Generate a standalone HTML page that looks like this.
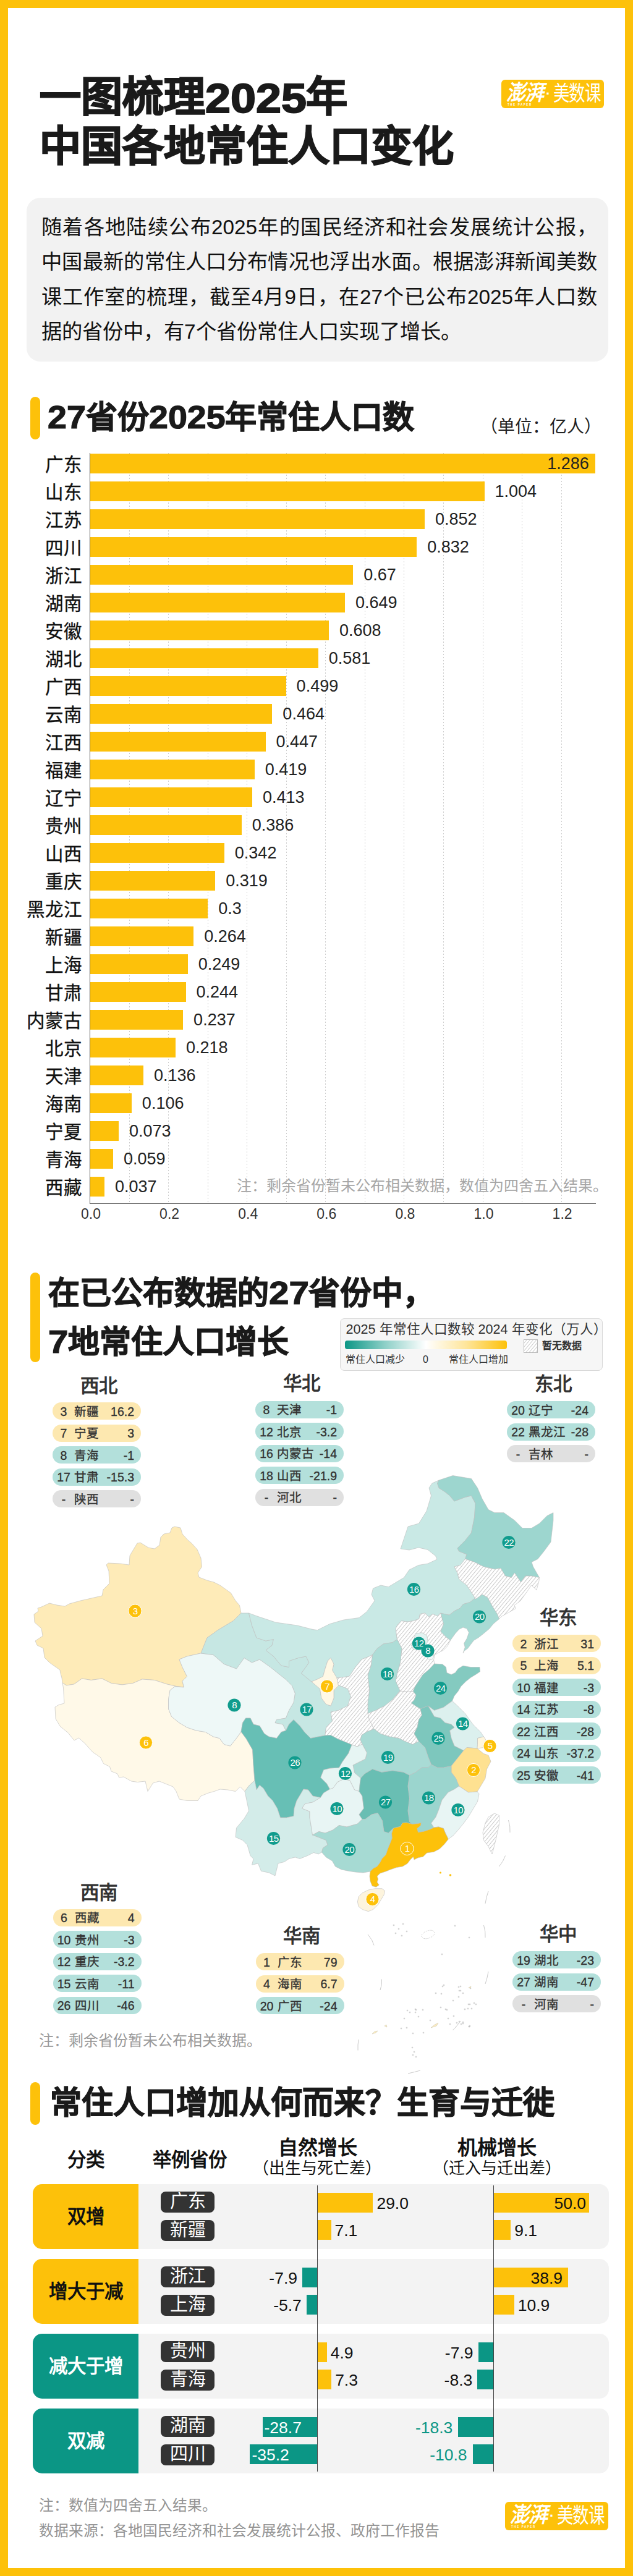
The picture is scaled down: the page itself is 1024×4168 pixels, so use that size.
<!DOCTYPE html>
<html lang="zh-CN"><head><meta charset="utf-8"><title>2025</title>
<style>
html,body{margin:0;padding:0;}
body{width:1024px;height:4168px;position:relative;overflow:hidden;background:#FDC10A;font-family:"Liberation Sans",sans-serif;}
#pg{position:absolute;left:13px;top:13px;width:998px;height:4142px;background:#fff;}
.t{position:absolute;white-space:nowrap;margin:0;padding:0;}
.r{position:absolute;margin:0;padding:0;}
</style></head><body><div id="pg"></div>
<div class="t" style="left:63.5px;top:112.95px;font-size:67px;line-height:87.1px;font-weight:900;color:#1a1a1a;-webkit-text-stroke:2.0px #1a1a1a;">一图梳理<span style="display:inline-block;position:relative;top:2px;transform:scaleX(1.1);transform-origin:0 50%;margin-right:14.9px;">2025</span>年</div>
<div class="t" style="left:63.5px;top:192.95px;font-size:67px;line-height:87.1px;font-weight:900;color:#1a1a1a;-webkit-text-stroke:2.0px #1a1a1a;">中国各地常住人口变化</div>
<div class="r" style="left:811px;top:129px;width:166px;height:46px;background:#FDC10A;border-radius:6px;"></div>
<div class="t" style="left:819px;top:133px;font-size:31px;line-height:36px;font-weight:700;color:#fff;font-family:'Liberation Serif',serif;font-style:italic;letter-spacing:-1px;transform:scaleY(1.12);transform-origin:0 50%;">澎湃</div>
<div class="t" style="left:883px;top:137px;font-size:22px;line-height:30px;font-weight:700;color:#fff;">·</div>
<div class="t" style="left:895px;top:134px;font-size:26.5px;line-height:34px;font-weight:400;color:#fff;letter-spacing:-0.6px;transform:scaleY(1.3);transform-origin:0 50%;">美数课</div>
<div class="t" style="left:821px;top:167px;font-size:4.5px;line-height:6px;font-weight:700;color:#fff;letter-spacing:1.6px;">THE PAPER</div>
<div class="r" style="left:43px;top:320px;width:941px;height:265px;background:#f2f2f2;border-radius:22px;"></div>
<div class="t" style="left:67px;top:340px;width:899px;font-size:33.3px;line-height:56.3px;color:#111;white-space:normal;text-align:justify;word-break:break-all;">随着各地陆续公布2025年的国民经济和社会发展统计公报，中国最新的常住人口分布情况也浮出水面。根据澎湃新闻美数课工作室的梳理，截至4月9日，在27个已公布2025年人口数据的省份中，有7个省份常住人口实现了增长。</div>
<div class="r" style="left:49px;top:642px;width:16px;height:69px;background:#FDC10A;border-radius:8px;"></div>
<div class="t" style="left:77px;top:642.85px;font-size:51px;line-height:66.3px;font-weight:900;color:#1a1a1a;-webkit-text-stroke:1.2px #1a1a1a;"><span style="display:inline-block;position:relative;top:0px;transform:scaleX(1.09);transform-origin:0 50%;margin-right:5.1px;">27</span>省份<span style="display:inline-block;position:relative;top:0px;transform:scaleX(1.09);transform-origin:0 50%;margin-right:10.2px;">2025</span>年常住人口数</div>
<div class="t" style="left:777px;top:673.40px;font-size:28px;line-height:36.4px;font-weight:400;color:#222;">（单位：亿人）</div>
<div class="r" style="left:208.6px;top:733px;height:1214px;background:repeating-linear-gradient(180deg,#cdcdcd 0,#cdcdcd 2px,transparent 2px,transparent 5px);width:1px;"></div>
<div class="r" style="left:272.1px;top:733px;height:1214px;background:repeating-linear-gradient(180deg,#cdcdcd 0,#cdcdcd 2px,transparent 2px,transparent 5px);width:1px;"></div>
<div class="r" style="left:335.6px;top:733px;height:1214px;background:repeating-linear-gradient(180deg,#cdcdcd 0,#cdcdcd 2px,transparent 2px,transparent 5px);width:1px;"></div>
<div class="r" style="left:399.2px;top:733px;height:1214px;background:repeating-linear-gradient(180deg,#cdcdcd 0,#cdcdcd 2px,transparent 2px,transparent 5px);width:1px;"></div>
<div class="r" style="left:462.8px;top:733px;height:1214px;background:repeating-linear-gradient(180deg,#cdcdcd 0,#cdcdcd 2px,transparent 2px,transparent 5px);width:1px;"></div>
<div class="r" style="left:526.3px;top:733px;height:1214px;background:repeating-linear-gradient(180deg,#cdcdcd 0,#cdcdcd 2px,transparent 2px,transparent 5px);width:1px;"></div>
<div class="r" style="left:589.9px;top:733px;height:1214px;background:repeating-linear-gradient(180deg,#cdcdcd 0,#cdcdcd 2px,transparent 2px,transparent 5px);width:1px;"></div>
<div class="r" style="left:653.4px;top:733px;height:1214px;background:repeating-linear-gradient(180deg,#cdcdcd 0,#cdcdcd 2px,transparent 2px,transparent 5px);width:1px;"></div>
<div class="r" style="left:717.0px;top:733px;height:1214px;background:repeating-linear-gradient(180deg,#cdcdcd 0,#cdcdcd 2px,transparent 2px,transparent 5px);width:1px;"></div>
<div class="r" style="left:780.5px;top:733px;height:1214px;background:repeating-linear-gradient(180deg,#cdcdcd 0,#cdcdcd 2px,transparent 2px,transparent 5px);width:1px;"></div>
<div class="r" style="left:844.0px;top:733px;height:1214px;background:repeating-linear-gradient(180deg,#cdcdcd 0,#cdcdcd 2px,transparent 2px,transparent 5px);width:1px;"></div>
<div class="r" style="left:907.6px;top:733px;height:1214px;background:repeating-linear-gradient(180deg,#cdcdcd 0,#cdcdcd 2px,transparent 2px,transparent 5px);width:1px;"></div>
<div class="r" style="left:145.5px;top:733.7px;width:817.3px;height:32px;background:#FDC10A;"></div>
<div class="t" style="right:891.5px;top:733.03px;font-size:29.5px;line-height:38.35px;font-weight:400;color:#111;-webkit-text-stroke:0.35px #111;">广东</div>
<div class="t" style="right:71.24699999999996px;top:733.15px;font-size:27px;line-height:35.1px;font-weight:400;color:#222;">1.286</div>
<div class="r" style="left:145.5px;top:778.7px;width:638.0px;height:32px;background:#FDC10A;"></div>
<div class="t" style="right:891.5px;top:778.03px;font-size:29.5px;line-height:38.35px;font-weight:400;color:#111;-webkit-text-stroke:0.35px #111;">山东</div>
<div class="t" style="left:800.542px;top:778.15px;font-size:27px;line-height:35.1px;font-weight:400;color:#222;">1.004</div>
<div class="r" style="left:145.5px;top:823.7px;width:541.4px;height:32px;background:#FDC10A;"></div>
<div class="t" style="right:891.5px;top:823.03px;font-size:29.5px;line-height:38.35px;font-weight:400;color:#111;-webkit-text-stroke:0.35px #111;">江苏</div>
<div class="t" style="left:703.946px;top:823.15px;font-size:27px;line-height:35.1px;font-weight:400;color:#222;">0.852</div>
<div class="r" style="left:145.5px;top:868.7px;width:528.7px;height:32px;background:#FDC10A;"></div>
<div class="t" style="right:891.5px;top:868.03px;font-size:29.5px;line-height:38.35px;font-weight:400;color:#111;-webkit-text-stroke:0.35px #111;">四川</div>
<div class="t" style="left:691.236px;top:868.15px;font-size:27px;line-height:35.1px;font-weight:400;color:#222;">0.832</div>
<div class="r" style="left:145.5px;top:913.7px;width:425.8px;height:32px;background:#FDC10A;"></div>
<div class="t" style="right:891.5px;top:913.03px;font-size:29.5px;line-height:38.35px;font-weight:400;color:#111;-webkit-text-stroke:0.35px #111;">浙江</div>
<div class="t" style="left:588.2850000000001px;top:913.15px;font-size:27px;line-height:35.1px;font-weight:400;color:#222;">0.67</div>
<div class="r" style="left:145.5px;top:958.7px;width:412.4px;height:32px;background:#FDC10A;"></div>
<div class="t" style="right:891.5px;top:958.03px;font-size:29.5px;line-height:38.35px;font-weight:400;color:#111;-webkit-text-stroke:0.35px #111;">湖南</div>
<div class="t" style="left:574.9395px;top:958.15px;font-size:27px;line-height:35.1px;font-weight:400;color:#222;">0.649</div>
<div class="r" style="left:145.5px;top:1003.7px;width:386.4px;height:32px;background:#FDC10A;"></div>
<div class="t" style="right:891.5px;top:1003.03px;font-size:29.5px;line-height:38.35px;font-weight:400;color:#111;-webkit-text-stroke:0.35px #111;">安徽</div>
<div class="t" style="left:548.884px;top:1003.15px;font-size:27px;line-height:35.1px;font-weight:400;color:#222;">0.608</div>
<div class="r" style="left:145.5px;top:1048.7px;width:369.2px;height:32px;background:#FDC10A;"></div>
<div class="t" style="right:891.5px;top:1048.03px;font-size:29.5px;line-height:38.35px;font-weight:400;color:#111;-webkit-text-stroke:0.35px #111;">湖北</div>
<div class="t" style="left:531.7255px;top:1048.15px;font-size:27px;line-height:35.1px;font-weight:400;color:#222;">0.581</div>
<div class="r" style="left:145.5px;top:1093.7px;width:317.1px;height:32px;background:#FDC10A;"></div>
<div class="t" style="right:891.5px;top:1093.03px;font-size:29.5px;line-height:38.35px;font-weight:400;color:#111;-webkit-text-stroke:0.35px #111;">广西</div>
<div class="t" style="left:479.6145px;top:1093.15px;font-size:27px;line-height:35.1px;font-weight:400;color:#222;">0.499</div>
<div class="r" style="left:145.5px;top:1138.7px;width:294.9px;height:32px;background:#FDC10A;"></div>
<div class="t" style="right:891.5px;top:1138.03px;font-size:29.5px;line-height:38.35px;font-weight:400;color:#111;-webkit-text-stroke:0.35px #111;">云南</div>
<div class="t" style="left:457.372px;top:1138.15px;font-size:27px;line-height:35.1px;font-weight:400;color:#222;">0.464</div>
<div class="r" style="left:145.5px;top:1183.7px;width:284.1px;height:32px;background:#FDC10A;"></div>
<div class="t" style="right:891.5px;top:1183.03px;font-size:29.5px;line-height:38.35px;font-weight:400;color:#111;-webkit-text-stroke:0.35px #111;">江西</div>
<div class="t" style="left:446.56850000000003px;top:1183.15px;font-size:27px;line-height:35.1px;font-weight:400;color:#222;">0.447</div>
<div class="r" style="left:145.5px;top:1228.7px;width:266.3px;height:32px;background:#FDC10A;"></div>
<div class="t" style="right:891.5px;top:1228.03px;font-size:29.5px;line-height:38.35px;font-weight:400;color:#111;-webkit-text-stroke:0.35px #111;">福建</div>
<div class="t" style="left:428.7745px;top:1228.15px;font-size:27px;line-height:35.1px;font-weight:400;color:#222;">0.419</div>
<div class="r" style="left:145.5px;top:1273.7px;width:262.5px;height:32px;background:#FDC10A;"></div>
<div class="t" style="right:891.5px;top:1273.03px;font-size:29.5px;line-height:38.35px;font-weight:400;color:#111;-webkit-text-stroke:0.35px #111;">辽宁</div>
<div class="t" style="left:424.9615px;top:1273.15px;font-size:27px;line-height:35.1px;font-weight:400;color:#222;">0.413</div>
<div class="r" style="left:145.5px;top:1318.7px;width:245.3px;height:32px;background:#FDC10A;"></div>
<div class="t" style="right:891.5px;top:1318.03px;font-size:29.5px;line-height:38.35px;font-weight:400;color:#111;-webkit-text-stroke:0.35px #111;">贵州</div>
<div class="t" style="left:407.803px;top:1318.15px;font-size:27px;line-height:35.1px;font-weight:400;color:#222;">0.386</div>
<div class="r" style="left:145.5px;top:1363.7px;width:217.3px;height:32px;background:#FDC10A;"></div>
<div class="t" style="right:891.5px;top:1363.03px;font-size:29.5px;line-height:38.35px;font-weight:400;color:#111;-webkit-text-stroke:0.35px #111;">山西</div>
<div class="t" style="left:379.841px;top:1363.15px;font-size:27px;line-height:35.1px;font-weight:400;color:#222;">0.342</div>
<div class="r" style="left:145.5px;top:1408.7px;width:202.7px;height:32px;background:#FDC10A;"></div>
<div class="t" style="right:891.5px;top:1408.03px;font-size:29.5px;line-height:38.35px;font-weight:400;color:#111;-webkit-text-stroke:0.35px #111;">重庆</div>
<div class="t" style="left:365.22450000000003px;top:1408.15px;font-size:27px;line-height:35.1px;font-weight:400;color:#222;">0.319</div>
<div class="r" style="left:145.5px;top:1453.7px;width:190.7px;height:32px;background:#FDC10A;"></div>
<div class="t" style="right:891.5px;top:1453.03px;font-size:29.5px;line-height:38.35px;font-weight:400;color:#111;-webkit-text-stroke:0.35px #111;">黑龙江</div>
<div class="t" style="left:353.15px;top:1453.15px;font-size:27px;line-height:35.1px;font-weight:400;color:#222;">0.3</div>
<div class="r" style="left:145.5px;top:1498.7px;width:167.8px;height:32px;background:#FDC10A;"></div>
<div class="t" style="right:891.5px;top:1498.03px;font-size:29.5px;line-height:38.35px;font-weight:400;color:#111;-webkit-text-stroke:0.35px #111;">新疆</div>
<div class="t" style="left:330.27200000000005px;top:1498.15px;font-size:27px;line-height:35.1px;font-weight:400;color:#222;">0.264</div>
<div class="r" style="left:145.5px;top:1543.7px;width:158.2px;height:32px;background:#FDC10A;"></div>
<div class="t" style="right:891.5px;top:1543.03px;font-size:29.5px;line-height:38.35px;font-weight:400;color:#111;-webkit-text-stroke:0.35px #111;">上海</div>
<div class="t" style="left:320.7395px;top:1543.15px;font-size:27px;line-height:35.1px;font-weight:400;color:#222;">0.249</div>
<div class="r" style="left:145.5px;top:1588.7px;width:155.1px;height:32px;background:#FDC10A;"></div>
<div class="t" style="right:891.5px;top:1588.03px;font-size:29.5px;line-height:38.35px;font-weight:400;color:#111;-webkit-text-stroke:0.35px #111;">甘肃</div>
<div class="t" style="left:317.562px;top:1588.15px;font-size:27px;line-height:35.1px;font-weight:400;color:#222;">0.244</div>
<div class="r" style="left:145.5px;top:1633.7px;width:150.6px;height:32px;background:#FDC10A;"></div>
<div class="t" style="right:891.5px;top:1633.03px;font-size:29.5px;line-height:38.35px;font-weight:400;color:#111;-webkit-text-stroke:0.35px #111;">内蒙古</div>
<div class="t" style="left:313.1135px;top:1633.15px;font-size:27px;line-height:35.1px;font-weight:400;color:#222;">0.237</div>
<div class="r" style="left:145.5px;top:1678.7px;width:138.5px;height:32px;background:#FDC10A;"></div>
<div class="t" style="right:891.5px;top:1678.03px;font-size:29.5px;line-height:38.35px;font-weight:400;color:#111;-webkit-text-stroke:0.35px #111;">北京</div>
<div class="t" style="left:301.039px;top:1678.15px;font-size:27px;line-height:35.1px;font-weight:400;color:#222;">0.218</div>
<div class="r" style="left:145.5px;top:1723.7px;width:86.4px;height:32px;background:#FDC10A;"></div>
<div class="t" style="right:891.5px;top:1723.03px;font-size:29.5px;line-height:38.35px;font-weight:400;color:#111;-webkit-text-stroke:0.35px #111;">天津</div>
<div class="t" style="left:248.928px;top:1723.15px;font-size:27px;line-height:35.1px;font-weight:400;color:#222;">0.136</div>
<div class="r" style="left:145.5px;top:1768.7px;width:67.4px;height:32px;background:#FDC10A;"></div>
<div class="t" style="right:891.5px;top:1768.03px;font-size:29.5px;line-height:38.35px;font-weight:400;color:#111;-webkit-text-stroke:0.35px #111;">海南</div>
<div class="t" style="left:229.863px;top:1768.15px;font-size:27px;line-height:35.1px;font-weight:400;color:#222;">0.106</div>
<div class="r" style="left:145.5px;top:1813.7px;width:46.4px;height:32px;background:#FDC10A;"></div>
<div class="t" style="right:891.5px;top:1813.03px;font-size:29.5px;line-height:38.35px;font-weight:400;color:#111;-webkit-text-stroke:0.35px #111;">宁夏</div>
<div class="t" style="left:208.8915px;top:1813.15px;font-size:27px;line-height:35.1px;font-weight:400;color:#222;">0.073</div>
<div class="r" style="left:145.5px;top:1858.7px;width:37.5px;height:32px;background:#FDC10A;"></div>
<div class="t" style="right:891.5px;top:1858.03px;font-size:29.5px;line-height:38.35px;font-weight:400;color:#111;-webkit-text-stroke:0.35px #111;">青海</div>
<div class="t" style="left:199.9945px;top:1858.15px;font-size:27px;line-height:35.1px;font-weight:400;color:#222;">0.059</div>
<div class="r" style="left:145.5px;top:1903.7px;width:23.5px;height:32px;background:#FDC10A;"></div>
<div class="t" style="right:891.5px;top:1903.03px;font-size:29.5px;line-height:38.35px;font-weight:400;color:#111;-webkit-text-stroke:0.35px #111;">西藏</div>
<div class="t" style="left:186.0135px;top:1903.15px;font-size:27px;line-height:35.1px;font-weight:400;color:#222;">0.037</div>
<div class="r" style="left:145px;top:733px;width:1px;height:1214px;background:#555;"></div>
<div class="r" style="left:145px;top:1946.5px;width:819px;height:1px;background:#555;"></div>
<div class="t" style="left:-353.0px;width:1000px;text-align:center;top:1950.05px;font-size:23px;line-height:29.9px;font-weight:400;color:#333;">0.0</div>
<div class="t" style="left:-225.89999999999998px;width:1000px;text-align:center;top:1950.05px;font-size:23px;line-height:29.9px;font-weight:400;color:#333;">0.2</div>
<div class="t" style="left:-98.79999999999995px;width:1000px;text-align:center;top:1950.05px;font-size:23px;line-height:29.9px;font-weight:400;color:#333;">0.4</div>
<div class="t" style="left:28.300000000000068px;width:1000px;text-align:center;top:1950.05px;font-size:23px;line-height:29.9px;font-weight:400;color:#333;">0.6</div>
<div class="t" style="left:155.4000000000001px;width:1000px;text-align:center;top:1950.05px;font-size:23px;line-height:29.9px;font-weight:400;color:#333;">0.8</div>
<div class="t" style="left:282.5px;width:1000px;text-align:center;top:1950.05px;font-size:23px;line-height:29.9px;font-weight:400;color:#333;">1.0</div>
<div class="t" style="left:409.60000000000014px;width:1000px;text-align:center;top:1950.05px;font-size:23px;line-height:29.9px;font-weight:400;color:#333;">1.2</div>
<div class="t" style="left:383px;top:1903.20px;font-size:24px;line-height:31.2px;font-weight:300;color:#a6a6a6;">注：剩余省份暂未公布相关数据，数值为四舍五入结果。</div>
<div class="r" style="left:49px;top:2059px;width:16px;height:145px;background:#FDC10A;border-radius:8px;"></div>
<div class="t" style="left:77.5px;top:2059.85px;font-size:51px;line-height:66.3px;font-weight:900;color:#1a1a1a;-webkit-text-stroke:1.2px #1a1a1a;">在已公布数据的<span style="display:inline-block;position:relative;top:0px;transform:scaleX(1.145);transform-origin:0 50%;margin-right:8.2px;">27</span>省份中，</div>
<div class="t" style="left:77.5px;top:2138.85px;font-size:51px;line-height:66.3px;font-weight:900;color:#1a1a1a;-webkit-text-stroke:1.2px #1a1a1a;"><span style="display:inline-block;position:relative;top:0px;transform:scaleX(1.145);transform-origin:0 50%;margin-right:4.1px;">7</span>地常住人口增长</div>
<div class="r" style="left:550px;top:2132.5px;width:425px;height:85.5px;box-sizing:border-box;background:#f6f6f6;border:1px solid #d9d9d9;border-radius:7px;"></div>
<div class="t" style="left:559.5px;top:2136.76px;font-size:21.6px;line-height:28.08px;font-weight:500;color:#333;">2025 年常住人口数较 2024 年变化（万人）</div>
<div class="r" style="left:558px;top:2169.4px;width:262px;height:14px;border-radius:4px;background:linear-gradient(90deg,#0B9685 0%,#8fd0c8 25%,#ffffff 50%,#fee59a 75%,#FDC10A 100%);"></div>
<div class="t" style="left:559px;top:2189.60px;font-size:16px;line-height:20.8px;font-weight:500;color:#333;">常住人口减少</div>
<div class="t" style="left:188.5px;width:1000px;text-align:center;top:2189.60px;font-size:16px;line-height:20.8px;font-weight:500;color:#333;">0</div>
<div class="t" style="left:725.5px;top:2189.60px;font-size:16px;line-height:20.8px;font-weight:500;color:#333;">常住人口增加</div>
<svg class="r" style="left:847px;top:2167px;" width="23" height="22" viewBox="0 0 23 22"><defs><pattern id="hl" width="4" height="4" patternUnits="userSpaceOnUse" patternTransform="rotate(-50)"><line x1="0" y1="0" x2="4" y2="0" stroke="#999" stroke-width="1"/></pattern></defs><rect x="0.5" y="0.5" width="22" height="21" fill="#fff"/><rect x="0.5" y="0.5" width="22" height="21" fill="url(#hl)" stroke="#bbb" stroke-width="1"/></svg>
<div class="t" style="left:876.5px;top:2167.60px;font-size:16px;line-height:20.8px;font-weight:600;color:#333;">暂无数据</div>
<svg class="r" style="left:0;top:2380px;" width="1024" height="1000" viewBox="0 2380 1024 1000">
<defs><pattern id="hm" width="4.5" height="4.5" patternUnits="userSpaceOnUse" patternTransform="rotate(-50)"><rect width="4.5" height="4.5" fill="#fff"/><line x1="0" y1="0.5" x2="4.5" y2="0.5" stroke="#adadad" stroke-width="0.65"/></pattern></defs>
<g stroke="#bcbcbc" stroke-width="0.6" stroke-linejoin="round">
<path d="M390 2610L387.5 2597.5L381 2590L373.5 2577.5L356 2565L346 2560L335 2557L322 2552L320 2545L326.5 2535L325 2521L319 2507L310 2497L304 2492L295 2482L292 2472L282.5 2470L278 2472L275 2480L265 2482L260 2487L258 2500L250 2506L240 2504L227 2496L222 2497L210 2517L209 2532L195 2530L175 2529L172 2532L176 2542L177 2562L167 2572L165 2582L130 2590L112 2595L105 2599L92 2597L80 2594L67 2600L61 2602L62 2607L55 2612L56 2625L67 2635L69 2647L57 2655L60 2662L70 2667L72 2682L80 2690L87 2695L97 2702L97.5 2706L100 2715L101 2723L107.5 2727L120 2725L132.5 2716L147.5 2718.5L165 2716L180 2723.5L197.5 2726L215 2723.5L230 2717L250 2718.5L270 2725L285 2728.5L297.5 2730L295 2720L302.5 2712.5L295 2697.5L290 2685L302.5 2680L325 2675L330 2662.5L335 2650L352.5 2637.5L377.5 2622.5Z" fill="#FEEBB8"/>
<path d="M101 2723L102.5 2731L104 2756L95 2758.5L89 2762L90 2781L97.5 2793.5L110 2803.5L120 2816L127.5 2812L137.5 2821L150 2835L162.5 2843.5L167.5 2853.5L177.5 2858.5L180 2866L190 2870L192.5 2876L200 2875L212.5 2882L222.5 2883.5L235 2882L239 2898.5L247.5 2885L257.5 2882L270 2887L280 2891L285 2898.5L290 2911L302.5 2913.5L320 2913.5L325 2906L337.5 2901L346.5 2898.5L356 2895L368.5 2896L381 2898.5L388.5 2891L396 2898.5L403.5 2888.5L412 2881L410 2856L408.5 2831L398.5 2813.5L390 2802L382.5 2812.5L372.5 2825L362.5 2822.5L355 2812.5L345 2810L332.5 2802.5L317.5 2800L302.5 2795L290 2787.5L277.5 2777.5L272.5 2765L272.5 2750L275 2735L282.5 2729L297.5 2730L285 2728.5L270 2725L250 2718.5L230 2717L215 2723.5L197.5 2726L180 2723.5L165 2716L147.5 2718.5L132.5 2716L120 2725L107.5 2727Z" fill="#FFF9E8"/>
<path d="M325 2675L302.5 2680L290 2685L295 2697.5L302.5 2712.5L295 2720L297.5 2730L282.5 2729L275 2735L272.5 2750L272.5 2765L277.5 2777.5L290 2787.5L302.5 2795L317.5 2800L332.5 2802.5L345 2810L355 2812.5L362.5 2822.5L372.5 2825L382.5 2812.5L390 2802L392.5 2787.5L397.5 2780L405 2780L410 2790L420 2792.5L427.5 2805L435 2810L447.5 2812.5L455 2802.5L462.5 2800L457.5 2790L445 2787.5L447.5 2782.5L462.5 2780L467.5 2767.5L475 2755L477.5 2740L472.5 2727.5L462.5 2717.5L450 2707.5L437.5 2697.5L420 2685L407.5 2690L395 2682.5L382.5 2700L362.5 2692.5L345 2677.5Z" fill="#EEF8F7"/>
<path d="M390 2610L377.5 2622.5L352.5 2637.5L335 2650L330 2662.5L325 2675L345 2677.5L362.5 2692.5L382.5 2700L395 2682.5L407.5 2690L420 2685L437.5 2697.5L450 2707.5L462.5 2717.5L472.5 2727.5L477.5 2740L475 2755L467.5 2767.5L462.5 2780L447.5 2782.5L445 2787.5L457.5 2790L462.5 2800L467.5 2790L475 2782.5L485 2792.5L492.5 2802.5L502.5 2812.5L515 2810L526 2808L527.5 2795L537.5 2785L535 2770L547.5 2767.5L562.5 2760L567.5 2745L562.5 2732.5L550 2727.5L547.5 2727.5L540 2735L540 2747.5L535 2760L527.5 2757.5L520 2747.5L517.5 2732.5L504 2721L487.5 2707.5L500 2690L495 2680L482.5 2682.5L467.5 2687.5L467.5 2697.5L455 2695L442.5 2680L430 2670L440 2662.5L442.5 2652.5L430 2655L415 2650L407.5 2630L402.5 2610Z" fill="#C6E7E3"/>
<path d="M402.5 2610L416 2615L446 2625L481 2630L506 2636.5L513.5 2637.5L533.5 2627.5L556 2621L581 2617.5L593.5 2607.5L606 2590L601 2580L603.5 2570L616 2565L628.5 2567.5L641 2560L653.5 2552.5L662 2540L677 2532.5L692 2530L707 2523L704.5 2517.5L692 2507.5L677 2504L662 2508L648 2506L655 2485L660 2470L677.5 2465L690 2445L697.5 2420L694 2407.5L699 2400L710 2395L707.5 2400L710 2407.5L720 2414L727.5 2420L735 2429L752.5 2422.5L762.5 2420L769 2432.5L767.5 2455L762.5 2480L752.5 2492.5L740 2505L742.5 2510L755 2515L752.5 2522.5L744.5 2532.5L735 2535L740 2545L742.5 2555L755 2565L765 2580L769.5 2587.5L768 2586.3L760 2592.6L749 2595.8L744.3 2602.1L734.8 2606.9L726.9 2613.2L719 2611.6L712.7 2610L707.9 2614.8L700 2611.6L693.7 2616.3L687.4 2610L679.5 2611.6L677.9 2619.5L668.4 2622.7L659 2624.2L649.5 2622.7L643.2 2629L640 2635L642.5 2652.5L635 2657.5L620 2660L610 2667.5L602.5 2677.5L597.5 2680L585 2685L575 2697.5L565 2712.5L545 2715L537.5 2702.5L540 2692.5L535 2682.5L530 2687.5L526 2700L522.5 2712.5L512.5 2717.5L504 2721L487.5 2707.5L500 2690L495 2680L482.5 2682.5L467.5 2687.5L467.5 2697.5L455 2695L442.5 2680L430 2670L440 2662.5L442.5 2652.5L430 2655L415 2650L407.5 2630Z" fill="#C9E9E5"/>
<path d="M504 2721L517.5 2732.5L520 2747.5L527.5 2757.5L535 2760L540 2747.5L540 2735L547.5 2727.5L545 2715L537.5 2702.5L540 2692.5L535 2682.5L530 2687.5L526 2700L522.5 2712.5L512.5 2717.5Z" fill="#FFF8E5"/>
<path d="M710 2395L732.5 2387.5L747.5 2390L762.5 2392.5L772.5 2407.5L780 2425L790 2442.5L800 2447.5L815 2447.5L832.5 2460L845 2472.5L860 2472.5L872.5 2465L885 2452.5L895 2447.5L895 2460L891 2495L880 2510L870 2522.5L860 2527.5L862.5 2535L872.5 2552.5L860 2550L850 2550L842.5 2560L832.5 2545L827.5 2552.5L817.5 2550L810 2537.5L800 2539L782.5 2535L767.5 2527.5L752.5 2522.5L755 2515L742.5 2510L740 2505L752.5 2492.5L762.5 2480L767.5 2455L769 2432.5L762.5 2420L752.5 2422.5L735 2429L727.5 2420L720 2414L710 2407.5L707.5 2400Z" fill="#9DD6CF"/>
<path d="M872.5 2552.5L872 2557.5L868 2572.5L859.5 2565L854.5 2572.5L842 2590L832 2597.5L834.5 2602.5L812 2615L807.5 2619.5L804.3 2611.6L796.4 2599L788.5 2584.7L780 2580L769.5 2587.5L765 2580L755 2565L742.5 2555L740 2545L735 2535L744.5 2532.5L752.5 2522.5L767.5 2527.5L782.5 2535L800 2539L810 2537.5L817.5 2550L827.5 2552.5L832.5 2545L842.5 2560L850 2550L860 2550Z" fill="url(#hm)"/>
<path d="M807.5 2619.5L798 2627.4L791.7 2635.3L782.2 2643.2L774.3 2649.5L766.4 2654.3L761.6 2660.6L756.9 2666.9L750.6 2671.6L749 2674.8L752.2 2665.3L750.6 2659L755.3 2651.1L758.5 2641.6L755.3 2635.3L749 2633.1L742.7 2636.2L736.4 2643.2L728.5 2654.3L720.6 2648L712.7 2640L717.4 2627.4L712.7 2610L719 2611.6L726.9 2613.2L734.8 2606.9L744.3 2602.1L749 2595.8L760 2592.6L768 2586.3L769.5 2587.5L780 2580L788.5 2584.7L796.4 2599L804.3 2611.6Z" fill="#A8DBD4"/>
<path d="M712.7 2610L717.4 2627.4L712.7 2640L720.6 2648L728.5 2654.3L723.7 2663.7L717.4 2670L707.9 2674.8L703.2 2678L701.6 2685.8L703 2692L693.7 2701.6L684.2 2709.5L677.9 2719L671.6 2728.5L668.4 2736.4L660 2737.5L647 2736L640 2720L642.5 2707.5L647.5 2690L650 2667.5L642.5 2652.5L640 2635L643.2 2629L649.5 2622.7L659 2624.2L668.4 2622.7L677.9 2619.5L679.5 2611.6L687.4 2610L693.7 2616.3L700 2611.6L707.9 2614.8Z" fill="url(#hm)"/>
<path d="M642.5 2652.5L650 2667.5L647.5 2690L642.5 2707.5L640 2720L647 2736L635 2750L622.5 2760L607.5 2767.5L595 2772.5L595 2755L597.5 2735L595 2710L600 2695L602.5 2677.5L610 2667.5L620 2660L635 2657.5Z" fill="#ADDDD7"/>
<path d="M545 2715L565 2712.5L575 2697.5L585 2685L597.5 2680L602.5 2677.5L600 2695L595 2710L597.5 2735L595 2755L595 2772.5L597.5 2782.5L605 2797.5L592.5 2802.5L585 2807.5L583 2815L586 2822L578 2826L569 2823L558.5 2818.5L546 2813.5L535 2807.5L526 2808L527.5 2795L537.5 2785L535 2770L547.5 2767.5L562.5 2760L567.5 2745L562.5 2732.5L550 2727.5L547.5 2727.5Z" fill="url(#hm)"/>
<path d="M647 2736L660 2737.5L668.4 2736.4L673.2 2742.7L670 2750.6L665.3 2755.4L680 2765L682.5 2775L677.5 2782.5L675 2795L670 2805L677.5 2817.5L667.5 2822.5L655 2817.5L645 2812.5L630 2810L615 2805L605 2797.5L597.5 2782.5L595 2772.5L607.5 2767.5L622.5 2760L635 2750Z" fill="url(#hm)"/>
<path d="M703 2692L715.8 2692.8L721.5 2697.5L722.8 2706.4L730 2709.5L736.4 2706.4L741.1 2700L749 2695.3L761.6 2697.5L775.9 2697.5L776.5 2704.8L769.5 2709.5L761.6 2714.3L753.7 2720.6L745.8 2728.5L741.1 2736.4L734.8 2744.3L731.6 2752.2L717.5 2762.5L702.5 2767.5L692.5 2760L680 2765L665.3 2755.4L670 2750.6L673.2 2742.7L668.4 2736.4L671.6 2728.5L677.9 2719L684.2 2709.5L693.7 2701.6Z" fill="#84CAC0"/>
<path d="M731.6 2752.2L740 2760L752.5 2772.5L765 2790L777.5 2802.5L782.5 2810L772.5 2812.5L772.5 2822.5L772 2829L755 2827.5L750 2832.5L745 2830L735 2825L730 2812.5L727.5 2800L735 2795L730 2790L720 2787.5L712.5 2780L702.5 2777.5L692.5 2760L702.5 2767.5L717.5 2762.5Z" fill="#DCF0EE"/>
<path d="M680 2765L692.5 2760L702.5 2777.5L712.5 2780L720 2787.5L730 2790L735 2795L727.5 2800L730 2812.5L735 2825L745 2830L750 2832.5L740 2845L730 2857.5L717.5 2860L707.5 2860L697.5 2855L692.5 2842.5L687.5 2827.5L677.5 2817.5L670 2805L675 2795L677.5 2782.5L682.5 2775Z" fill="#7DC7BD"/>
<path d="M782.5 2810L787.5 2817.5L782.5 2827.5L772 2829L772.5 2822.5L772.5 2812.5Z" fill="#FFF6DC"/>
<path d="M750 2832.5L755 2827.5L772 2829L782.5 2837.5L790 2840L794 2850L787.5 2862.5L785 2877.5L777.5 2890L772 2899L757.5 2900L750 2895L742.5 2890L737.5 2877.5L730 2867.5L730 2857.5L740 2845Z" fill="#FEE191"/>
<path d="M586 2822L583 2815L585 2807.5L592.5 2802.5L605 2797.5L615 2805L630 2810L645 2812.5L655 2817.5L667.5 2822.5L677.5 2817.5L687.5 2827.5L692.5 2842.5L697.5 2855L692.5 2860L682.5 2860L672.5 2867.5L662.5 2872.5L652.5 2867.5L635 2865L617.5 2867.5L602.5 2862.5L590 2870L583.5 2877L573.5 2868.5L571 2856L576 2853.5L591 2846L593.5 2836Z" fill="#A9DBD5"/>
<path d="M569 2823L578 2826L586 2822L593.5 2836L591 2846L576 2853.5L571 2856L573.5 2868.5L583.5 2877L582 2888L581 2898.5L573.5 2896L566 2881L556 2878.5L546 2883.5L538.5 2893.5L533.5 2895L528.5 2886L518.5 2876L523.5 2863.5L533.5 2861L548.5 2860L553.5 2851L563.5 2837Z" fill="#E6F5F3"/>
<path d="M390 2802L392.5 2787.5L397.5 2780L405 2780L410 2790L420 2792.5L427.5 2805L435 2810L447.5 2812.5L455 2802.5L462.5 2800L467.5 2790L475 2782.5L485 2792.5L492.5 2802.5L502.5 2812.5L515 2810L526 2808L535 2807.5L546 2813.5L558.5 2818.5L569 2823L563.5 2837L553.5 2851L548.5 2860L533.5 2861L523.5 2863.5L518.5 2876L528.5 2886L533.5 2895L523.5 2901L518.5 2908.5L506 2906L498.5 2896L491 2895L486 2903.5L480 2913.5L476 2926L475 2938.5L463.5 2941L453.5 2941L448.5 2926L441 2913.5L433.5 2906L426 2893.5L420 2888.5L415 2896L412 2881L410 2856L408.5 2831L398.5 2813.5Z" fill="#67BFB5"/>
<path d="M396 2898.5L403.5 2888.5L412 2881L415 2896L420 2888.5L426 2893.5L433.5 2906L441 2913.5L448.5 2926L453.5 2941L463.5 2941L475 2938.5L476 2926L480 2913.5L486 2903.5L491 2895L498.5 2896L506 2906L518.5 2908.5L506 2916L493.5 2918.5L488.5 2926L501 2931L501 2941L503.5 2956L505.5 2969L515 2972.5L527.5 2977.5L530 2985L522.5 2990L520.5 2997L515 3000L507.5 2997.5L497.5 3002.5L485 3007.5L477.5 3005L467.5 3007.5L460 3012.5L450 3015L447.5 3025L445 3035L435 3030L422.5 3027.5L417.5 3015L407.5 3017.5L410 3007.5L405 3002.5L400 2985L392.5 2977.5L381 2972.5L382.5 2957.5L395 2942.5L402.5 2930L400 2917.5Z" fill="#D3ECE9"/>
<path d="M533.5 2895L538.5 2893.5L546 2883.5L556 2878.5L566 2881L573.5 2896L581 2898.5L586 2906L588.5 2926L581 2936L586 2943.5L578.5 2951L561 2956L548.5 2953.5L538.5 2961L526 2966L516 2963.5L505.5 2969L503.5 2956L501 2941L501 2931L488.5 2926L493.5 2918.5L506 2916L518.5 2908.5L523.5 2901Z" fill="#E8F5F4"/>
<path d="M583.5 2877L590 2870L602.5 2862.5L617.5 2867.5L635 2865L652.5 2867.5L662.5 2872.5L660 2890L662.5 2910L660 2930L662.5 2947.5L667 2951.5L657.4 2949L651.1 2949.6L647.9 2955.3L636.5 2958L628.5 2966L621 2963.5L618.5 2946L611 2933.5L601 2936L591 2943.5L586 2943.5L581 2936L588.5 2926L586 2906L581 2898.5L582 2888Z" fill="#69BEB3"/>
<path d="M662.5 2872.5L672.5 2867.5L682.5 2860L692.5 2860L697.5 2855L707.5 2860L717.5 2860L730 2857.5L730 2867.5L737.5 2877.5L742.5 2890L735 2895L725 2900L715 2912.5L710 2927.5L705 2940L697.5 2950L702 2957L695.3 2960L685.8 2963.2L676.4 2964.8L674.8 2958.4L680.5 2953.7L681.1 2949.6L676.4 2950.5L667 2951.5L662.5 2947.5L660 2930L662.5 2910L660 2890Z" fill="#9BD5CE"/>
<path d="M772 2899L775 2902.5L772.5 2915L765 2927.5L757.5 2940L750 2950L742 2960L733 2970L725.3 2975.8L720.6 2966.3L717.4 2958.4L709.5 2955.9L702 2957L697.5 2950L705 2940L710 2927.5L715 2912.5L725 2900L735 2895L742.5 2890L750 2895L757.5 2900Z" fill="#E8F5F4"/>
<path d="M505.5 2969L516 2963.5L526 2966L538.5 2961L548.5 2953.5L561 2956L578.5 2951L586 2943.5L591 2943.5L601 2936L611 2933.5L618.5 2946L621 2963.5L628.5 2966L636.5 2958L633.7 2966.3L634.3 2974.2L630.6 2983.7L627.4 2991.6L624.2 3001.1L617.9 3007.4L614.8 3013.7L610 3020L603.7 3023.2L599 3028L587.5 3030L575 3029L565 3027.5L552.5 3025L542.5 3020L537.5 3011L527.5 3005L520.5 2997L522.5 2990L530 2985L527.5 2977.5L515 2972.5Z" fill="#A6DAD3"/>
<path d="M636.5 2958L647.9 2955.3L651.1 2949.6L657.4 2949L667 2951.5L676.4 2950.5L681.1 2949.6L680.5 2953.7L674.8 2958.4L676.4 2964.8L685.8 2963.2L695.3 2960L702 2957L709.5 2955.9L717.4 2958.4L720.6 2966.3L725.3 2975.8L719 2983.7L711.1 2991.6L701.6 2996.4L690.6 2997.9L684.3 3004.2L676.4 3005.8L670 3009L668.5 3004.2L663.7 3009L659 3015.3L651.1 3020L641.6 3021.6L632.1 3024.8L624.2 3027.9L614.8 3031.1L610 3035.8L611.6 3040.6L610 3045.3L613.2 3050L608.4 3053.2L602.1 3051.6L599 3043.7L598 3035.8L599 3028L603.7 3023.2L610 3020L614.8 3013.7L617.9 3007.4L624.2 3001.1L627.4 2991.6L630.6 2983.7L634.3 2974.2L633.7 2966.3Z" fill="#FDC10A"/>
<path d="M580 3069L586.3 3062.7L595.8 3058L606.9 3055.7L617.9 3055.7L622.7 3059.5L621.1 3065.9L616.3 3073.8L611.6 3081.7L603.7 3089.6L595.8 3092.7L586.3 3089.6L580 3084.8L578.4 3077Z" fill="#FDF4DD"/>
<path d="M790 2940L800 2934L807.5 2937.5L807.5 2952.5L802.5 2975L797.5 2995L796 3000L790 2987.5L782.5 2977.5L781 2965L785 2950Z" fill="url(#hm)"/>
<path d="M671.6 2643.2L682.7 2641.6L690.6 2646.4L692.1 2655.8L687.4 2663.7L677.9 2670L668.4 2668.5L665.3 2662.2L670 2654.3Z" fill="#E3F3F1"/>
<path d="M687.4 2663.7L695.3 2660.6L701.6 2666.9L701.6 2681.1L698.5 2685.8L692.1 2684.3L687.4 2676.4L684.2 2670Z" fill="#F0F9F8"/>
</g>
<g stroke="#bdbdbd" stroke-width="0.8" fill="none">
<path d="M822.5 2945Q825.75 2955.0 825 2965"/>
<path d="M817.5 3002.5Q814.5 3011.25 807.5 3020"/>
<path d="M790 3060Q786.5 3070.0 785 3080"/>
<path d="M782.5 3115Q785.75 3125.0 785 3135"/>
<path d="M595 3130Q603.0 3138.75 605 3147.5"/>
<path d="M617.5 3202.5Q618.25 3211.25 615 3220"/>
<path d="M790 3190Q788.5 3200.0 785 3210"/>
<path d="M580 3300Q578.5 3308.75 579 3317.5"/>
<path d="M745 3270Q739.75 3277.5 732.5 3285"/>
<path d="M660 3355Q671.0 3352.5 680 3350"/>
<ellipse cx="692.5" cy="3130" rx="11" ry="6" stroke-dasharray="1.5 1.5" transform="rotate(-20 692.5 3130)"/>
<circle cx="637" cy="3115" r="0.9"/>
<circle cx="645" cy="3121" r="0.9"/>
<circle cx="652" cy="3113" r="0.9"/>
<circle cx="658" cy="3125" r="0.9"/>
<circle cx="640" cy="3128" r="0.9"/>
<circle cx="650" cy="3132" r="0.9"/>
<circle cx="759" cy="3135" r="0.9"/>
<circle cx="736" cy="3116" r="0.9"/>
<circle cx="715" cy="3162" r="0.9"/>
<circle cx="713" cy="3248" r="0.9"/>
<circle cx="723" cy="3252" r="0.9"/>
<circle cx="742" cy="3215" r="0.9"/>
<circle cx="696" cy="3269" r="0.9"/>
<circle cx="714" cy="3226" r="0.9"/>
<circle cx="770" cy="3243" r="0.9"/>
<circle cx="758" cy="3243" r="0.9"/>
<circle cx="743" cy="3221" r="0.9"/>
<circle cx="743" cy="3271" r="0.9"/>
<circle cx="734" cy="3262" r="0.9"/>
<circle cx="745" cy="3214" r="0.9"/>
<circle cx="752" cy="3251" r="0.9"/>
<circle cx="718" cy="3212" r="0.9"/>
<circle cx="760" cy="3243" r="0.9"/>
<circle cx="749" cy="3272" r="0.9"/>
<circle cx="749" cy="3274" r="0.9"/>
<circle cx="725" cy="3266" r="0.9"/>
<circle cx="728" cy="3275" r="0.9"/>
<circle cx="761" cy="3217" r="0.9"/>
<circle cx="705" cy="3225" r="0.9"/>
<circle cx="767" cy="3241" r="0.9"/>
<circle cx="742" cy="3231" r="0.9"/>
<circle cx="733" cy="3237" r="0.9"/>
<circle cx="721" cy="3251" r="0.9"/>
<circle cx="739" cy="3273" r="0.9"/>
<circle cx="746" cy="3275" r="0.9"/>
<circle cx="759" cy="3279" r="0.9"/>
<circle cx="745" cy="3221" r="0.9"/>
<circle cx="760" cy="3278" r="0.9"/>
<circle cx="763" cy="3250" r="0.9"/>
<circle cx="749" cy="3225" r="0.9"/>
<circle cx="757" cy="3250" r="0.9"/>
<circle cx="716" cy="3214" r="0.9"/>
<circle cx="759" cy="3279" r="0.9"/>
<circle cx="649" cy="3282" r="0.9"/>
<circle cx="663" cy="3256" r="0.9"/>
<circle cx="658" cy="3281" r="0.9"/>
<circle cx="684" cy="3252" r="0.9"/>
<circle cx="673" cy="3252" r="0.9"/>
<circle cx="677" cy="3263" r="0.9"/>
<circle cx="685" cy="3289" r="0.9"/>
<circle cx="668" cy="3290" r="0.9"/>
<circle cx="659" cy="3253" r="0.9"/>
<circle cx="672" cy="3251" r="0.9"/>
<circle cx="654" cy="3266" r="0.9"/>
<circle cx="672" cy="3256" r="0.9"/>
<circle cx="667" cy="3313" r="0.9"/>
<circle cx="670" cy="3320" r="0.9"/>
<circle cx="673" cy="3328" r="0.9"/>
<circle cx="668" cy="3325" r="0.9"/>
</g>
<g fill="#FBEBC0" stroke="#c9c2a8" stroke-width="0.5"><path d="M602 3291l4-4l5-1l-3 3z"/><path d="M622 3278l3-2l1 4z"/><path d="M697 3281l6-5l6-3l-3 5z"/><path d="M758 3216l4-2l-1 3z"/></g>
<circle cx="712.5" cy="3030" r="1.6" fill="#FDC10A"/><circle cx="728.5" cy="3034" r="1.8" fill="#FDC10A"/>
<circle cx="218.5" cy="2606.5" r="10.6" fill="#FDC10A" stroke="#fff" stroke-width="1"/>
<text x="218.7" y="2611.9" text-anchor="middle" font-size="15" letter-spacing="-0.6" font-weight="400" fill="#fff" font-family="Liberation Sans, sans-serif">3</text>
<circle cx="236" cy="2819.5" r="10.6" fill="#FDC10A" stroke="#fff" stroke-width="1"/>
<text x="236.2" y="2824.9" text-anchor="middle" font-size="15" letter-spacing="-0.6" font-weight="400" fill="#fff" font-family="Liberation Sans, sans-serif">6</text>
<circle cx="379" cy="2759" r="10.6" fill="#109C8D" stroke="#fff" stroke-width="0"/>
<text x="379.2" y="2764.4" text-anchor="middle" font-size="15" letter-spacing="-0.6" font-weight="400" fill="#fff" font-family="Liberation Sans, sans-serif">8</text>
<circle cx="496" cy="2766" r="10.6" fill="#109C8D" stroke="#fff" stroke-width="0"/>
<text x="496.2" y="2771.4" text-anchor="middle" font-size="15" letter-spacing="-0.6" font-weight="400" fill="#fff" font-family="Liberation Sans, sans-serif">17</text>
<circle cx="529" cy="2728.5" r="10.6" fill="#FDC10A" stroke="#fff" stroke-width="1"/>
<text x="529.2" y="2733.9" text-anchor="middle" font-size="15" letter-spacing="-0.6" font-weight="400" fill="#fff" font-family="Liberation Sans, sans-serif">7</text>
<circle cx="669.5" cy="2571.5" r="10.6" fill="#109C8D" stroke="#fff" stroke-width="0"/>
<text x="669.7" y="2576.9" text-anchor="middle" font-size="15" letter-spacing="-0.6" font-weight="400" fill="#fff" font-family="Liberation Sans, sans-serif">16</text>
<circle cx="823" cy="2495.5" r="10.6" fill="#109C8D" stroke="#fff" stroke-width="0"/>
<text x="823.2" y="2500.9" text-anchor="middle" font-size="15" letter-spacing="-0.6" font-weight="400" fill="#fff" font-family="Liberation Sans, sans-serif">22</text>
<circle cx="775.5" cy="2616" r="10.6" fill="#109C8D" stroke="#fff" stroke-width="0"/>
<text x="775.7" y="2621.4" text-anchor="middle" font-size="15" letter-spacing="-0.6" font-weight="400" fill="#fff" font-family="Liberation Sans, sans-serif">20</text>
<circle cx="677.5" cy="2659" r="10.6" fill="#109C8D" stroke="#fff" stroke-width="0"/>
<text x="677.7" y="2664.4" text-anchor="middle" font-size="15" letter-spacing="-0.6" font-weight="400" fill="#fff" font-family="Liberation Sans, sans-serif">12</text>
<circle cx="692" cy="2671" r="10.6" fill="#109C8D" stroke="#fff" stroke-width="0"/>
<text x="692.2" y="2676.4" text-anchor="middle" font-size="15" letter-spacing="-0.6" font-weight="400" fill="#fff" font-family="Liberation Sans, sans-serif">8</text>
<circle cx="626.5" cy="2708.5" r="10.6" fill="#109C8D" stroke="#fff" stroke-width="0"/>
<text x="626.7" y="2713.9" text-anchor="middle" font-size="15" letter-spacing="-0.6" font-weight="400" fill="#fff" font-family="Liberation Sans, sans-serif">18</text>
<circle cx="712.5" cy="2731.5" r="10.6" fill="#109C8D" stroke="#fff" stroke-width="0"/>
<text x="712.7" y="2736.9" text-anchor="middle" font-size="15" letter-spacing="-0.6" font-weight="400" fill="#fff" font-family="Liberation Sans, sans-serif">24</text>
<circle cx="748.5" cy="2789" r="10.6" fill="#109C8D" stroke="#fff" stroke-width="0"/>
<text x="748.7" y="2794.4" text-anchor="middle" font-size="15" letter-spacing="-0.6" font-weight="400" fill="#fff" font-family="Liberation Sans, sans-serif">14</text>
<circle cx="709" cy="2812.5" r="10.6" fill="#109C8D" stroke="#fff" stroke-width="0"/>
<text x="709.2" y="2817.9" text-anchor="middle" font-size="15" letter-spacing="-0.6" font-weight="400" fill="#fff" font-family="Liberation Sans, sans-serif">25</text>
<circle cx="792.5" cy="2825" r="10.6" fill="#FDC10A" stroke="#fff" stroke-width="1"/>
<text x="792.7" y="2830.4" text-anchor="middle" font-size="15" letter-spacing="-0.6" font-weight="400" fill="#fff" font-family="Liberation Sans, sans-serif">5</text>
<circle cx="766" cy="2864" r="10.6" fill="#FDC10A" stroke="#fff" stroke-width="1"/>
<text x="766.2" y="2869.4" text-anchor="middle" font-size="15" letter-spacing="-0.6" font-weight="400" fill="#fff" font-family="Liberation Sans, sans-serif">2</text>
<circle cx="627.5" cy="2843.5" r="10.6" fill="#109C8D" stroke="#fff" stroke-width="0"/>
<text x="627.7" y="2848.9" text-anchor="middle" font-size="15" letter-spacing="-0.6" font-weight="400" fill="#fff" font-family="Liberation Sans, sans-serif">19</text>
<circle cx="693.5" cy="2909" r="10.6" fill="#109C8D" stroke="#fff" stroke-width="0"/>
<text x="693.7" y="2914.4" text-anchor="middle" font-size="15" letter-spacing="-0.6" font-weight="400" fill="#fff" font-family="Liberation Sans, sans-serif">18</text>
<circle cx="741" cy="2928.5" r="10.6" fill="#109C8D" stroke="#fff" stroke-width="0"/>
<text x="741.2" y="2933.9" text-anchor="middle" font-size="15" letter-spacing="-0.6" font-weight="400" fill="#fff" font-family="Liberation Sans, sans-serif">10</text>
<circle cx="623.5" cy="2916" r="10.6" fill="#109C8D" stroke="#fff" stroke-width="0"/>
<text x="623.7" y="2921.4" text-anchor="middle" font-size="15" letter-spacing="-0.6" font-weight="400" fill="#fff" font-family="Liberation Sans, sans-serif">27</text>
<circle cx="477" cy="2852" r="10.6" fill="#109C8D" stroke="#fff" stroke-width="0"/>
<text x="477.2" y="2857.4" text-anchor="middle" font-size="15" letter-spacing="-0.6" font-weight="400" fill="#fff" font-family="Liberation Sans, sans-serif">26</text>
<circle cx="558.5" cy="2869.5" r="10.6" fill="#109C8D" stroke="#fff" stroke-width="0"/>
<text x="558.7" y="2874.9" text-anchor="middle" font-size="15" letter-spacing="-0.6" font-weight="400" fill="#fff" font-family="Liberation Sans, sans-serif">12</text>
<circle cx="545" cy="2926.5" r="10.6" fill="#109C8D" stroke="#fff" stroke-width="0"/>
<text x="545.2" y="2931.9" text-anchor="middle" font-size="15" letter-spacing="-0.6" font-weight="400" fill="#fff" font-family="Liberation Sans, sans-serif">10</text>
<circle cx="442.5" cy="2974.5" r="10.6" fill="#109C8D" stroke="#fff" stroke-width="0"/>
<text x="442.7" y="2979.9" text-anchor="middle" font-size="15" letter-spacing="-0.6" font-weight="400" fill="#fff" font-family="Liberation Sans, sans-serif">15</text>
<circle cx="565" cy="2992.5" r="10.6" fill="#109C8D" stroke="#fff" stroke-width="0"/>
<text x="565.2" y="2997.9" text-anchor="middle" font-size="15" letter-spacing="-0.6" font-weight="400" fill="#fff" font-family="Liberation Sans, sans-serif">20</text>
<circle cx="658.5" cy="2991" r="10.6" fill="#FDC10A" stroke="#fff" stroke-width="1"/>
<text x="658.7" y="2996.4" text-anchor="middle" font-size="15" letter-spacing="-0.6" font-weight="400" fill="#fff" font-family="Liberation Sans, sans-serif">1</text>
<circle cx="602.5" cy="3073" r="10.6" fill="#FDC10A" stroke="#fff" stroke-width="1"/>
<text x="602.7" y="3078.4" text-anchor="middle" font-size="15" letter-spacing="-0.6" font-weight="400" fill="#fff" font-family="Liberation Sans, sans-serif">4</text>
</svg>
<div class="t" style="left:-340.5px;width:1000px;text-align:center;top:2222.68px;font-size:30.5px;line-height:39.65px;font-weight:700;color:#333;">西北</div>
<div class="r" style="left:85px;top:2269.0px;width:143px;height:28px;background:#FDE8B0;border-radius:14px;"></div>
<div class="t" style="left:-397px;width:1000px;text-align:center;top:2271.62px;font-size:19.5px;line-height:25.35px;font-weight:500;color:#333;-webkit-text-stroke:0.35px #333;">3</div>
<div class="t" style="left:120px;top:2271.62px;font-size:19.5px;line-height:25.35px;font-weight:500;color:#333;-webkit-text-stroke:0.35px #333;">新疆</div>
<div class="t" style="right:807px;top:2271.62px;font-size:19.5px;line-height:25.35px;font-weight:500;color:#333;-webkit-text-stroke:0.35px #333;">16.2</div>
<div class="r" style="left:85px;top:2304.5px;width:143px;height:28px;background:#FDE8B0;border-radius:14px;"></div>
<div class="t" style="left:-397px;width:1000px;text-align:center;top:2307.12px;font-size:19.5px;line-height:25.35px;font-weight:500;color:#333;-webkit-text-stroke:0.35px #333;">7</div>
<div class="t" style="left:120px;top:2307.12px;font-size:19.5px;line-height:25.35px;font-weight:500;color:#333;-webkit-text-stroke:0.35px #333;">宁夏</div>
<div class="t" style="right:807px;top:2307.12px;font-size:19.5px;line-height:25.35px;font-weight:500;color:#333;-webkit-text-stroke:0.35px #333;">3</div>
<div class="r" style="left:85px;top:2340.0px;width:143px;height:28px;background:#B3E0DB;border-radius:14px;"></div>
<div class="t" style="left:-397px;width:1000px;text-align:center;top:2342.62px;font-size:19.5px;line-height:25.35px;font-weight:500;color:#333;-webkit-text-stroke:0.35px #333;">8</div>
<div class="t" style="left:120px;top:2342.62px;font-size:19.5px;line-height:25.35px;font-weight:500;color:#333;-webkit-text-stroke:0.35px #333;">青海</div>
<div class="t" style="right:807px;top:2342.62px;font-size:19.5px;line-height:25.35px;font-weight:500;color:#333;-webkit-text-stroke:0.35px #333;">-1</div>
<div class="r" style="left:85px;top:2375.5px;width:143px;height:28px;background:#B3E0DB;border-radius:14px;"></div>
<div class="t" style="left:-397px;width:1000px;text-align:center;top:2378.12px;font-size:19.5px;line-height:25.35px;font-weight:500;color:#333;-webkit-text-stroke:0.35px #333;">17</div>
<div class="t" style="left:120px;top:2378.12px;font-size:19.5px;line-height:25.35px;font-weight:500;color:#333;-webkit-text-stroke:0.35px #333;">甘肃</div>
<div class="t" style="right:807px;top:2378.12px;font-size:19.5px;line-height:25.35px;font-weight:500;color:#333;-webkit-text-stroke:0.35px #333;">-15.3</div>
<div class="r" style="left:85px;top:2411.0px;width:143px;height:28px;background:#E0E0E0;border-radius:14px;"></div>
<div class="t" style="left:-397px;width:1000px;text-align:center;top:2413.62px;font-size:19.5px;line-height:25.35px;font-weight:500;color:#333;-webkit-text-stroke:0.35px #333;">-</div>
<div class="t" style="left:120px;top:2413.62px;font-size:19.5px;line-height:25.35px;font-weight:500;color:#333;-webkit-text-stroke:0.35px #333;">陕西</div>
<div class="t" style="right:807px;top:2413.62px;font-size:19.5px;line-height:25.35px;font-weight:500;color:#333;-webkit-text-stroke:0.35px #333;">-</div>
<div class="t" style="left:-12.5px;width:1000px;text-align:center;top:2219.18px;font-size:30.5px;line-height:39.65px;font-weight:700;color:#333;">华北</div>
<div class="r" style="left:413px;top:2266.5px;width:143px;height:28px;background:#B3E0DB;border-radius:14px;"></div>
<div class="t" style="left:-69px;width:1000px;text-align:center;top:2269.12px;font-size:19.5px;line-height:25.35px;font-weight:500;color:#333;-webkit-text-stroke:0.35px #333;">8</div>
<div class="t" style="left:448px;top:2269.12px;font-size:19.5px;line-height:25.35px;font-weight:500;color:#333;-webkit-text-stroke:0.35px #333;">天津</div>
<div class="t" style="right:479px;top:2269.12px;font-size:19.5px;line-height:25.35px;font-weight:500;color:#333;-webkit-text-stroke:0.35px #333;">-1</div>
<div class="r" style="left:413px;top:2302.0px;width:143px;height:28px;background:#B3E0DB;border-radius:14px;"></div>
<div class="t" style="left:-69px;width:1000px;text-align:center;top:2304.62px;font-size:19.5px;line-height:25.35px;font-weight:500;color:#333;-webkit-text-stroke:0.35px #333;">12</div>
<div class="t" style="left:448px;top:2304.62px;font-size:19.5px;line-height:25.35px;font-weight:500;color:#333;-webkit-text-stroke:0.35px #333;">北京</div>
<div class="t" style="right:479px;top:2304.62px;font-size:19.5px;line-height:25.35px;font-weight:500;color:#333;-webkit-text-stroke:0.35px #333;">-3.2</div>
<div class="r" style="left:413px;top:2337.5px;width:143px;height:28px;background:#B3E0DB;border-radius:14px;"></div>
<div class="t" style="left:-69px;width:1000px;text-align:center;top:2340.12px;font-size:19.5px;line-height:25.35px;font-weight:500;color:#333;-webkit-text-stroke:0.35px #333;">16</div>
<div class="t" style="left:448px;top:2340.12px;font-size:19.5px;line-height:25.35px;font-weight:500;color:#333;-webkit-text-stroke:0.35px #333;">内蒙古</div>
<div class="t" style="right:479px;top:2340.12px;font-size:19.5px;line-height:25.35px;font-weight:500;color:#333;-webkit-text-stroke:0.35px #333;">-14</div>
<div class="r" style="left:413px;top:2373.0px;width:143px;height:28px;background:#B3E0DB;border-radius:14px;"></div>
<div class="t" style="left:-69px;width:1000px;text-align:center;top:2375.62px;font-size:19.5px;line-height:25.35px;font-weight:500;color:#333;-webkit-text-stroke:0.35px #333;">18</div>
<div class="t" style="left:448px;top:2375.62px;font-size:19.5px;line-height:25.35px;font-weight:500;color:#333;-webkit-text-stroke:0.35px #333;">山西</div>
<div class="t" style="right:479px;top:2375.62px;font-size:19.5px;line-height:25.35px;font-weight:500;color:#333;-webkit-text-stroke:0.35px #333;">-21.9</div>
<div class="r" style="left:413px;top:2408.5px;width:143px;height:28px;background:#E0E0E0;border-radius:14px;"></div>
<div class="t" style="left:-69px;width:1000px;text-align:center;top:2411.12px;font-size:19.5px;line-height:25.35px;font-weight:500;color:#333;-webkit-text-stroke:0.35px #333;">-</div>
<div class="t" style="left:448px;top:2411.12px;font-size:19.5px;line-height:25.35px;font-weight:500;color:#333;-webkit-text-stroke:0.35px #333;">河北</div>
<div class="t" style="right:479px;top:2411.12px;font-size:19.5px;line-height:25.35px;font-weight:500;color:#333;-webkit-text-stroke:0.35px #333;">-</div>
<div class="t" style="left:394.5px;width:1000px;text-align:center;top:2220.18px;font-size:30.5px;line-height:39.65px;font-weight:700;color:#333;">东北</div>
<div class="r" style="left:820px;top:2267.0px;width:143px;height:28px;background:#B3E0DB;border-radius:14px;"></div>
<div class="t" style="left:338px;width:1000px;text-align:center;top:2269.62px;font-size:19.5px;line-height:25.35px;font-weight:500;color:#333;-webkit-text-stroke:0.35px #333;">20</div>
<div class="t" style="left:855px;top:2269.62px;font-size:19.5px;line-height:25.35px;font-weight:500;color:#333;-webkit-text-stroke:0.35px #333;">辽宁</div>
<div class="t" style="right:72px;top:2269.62px;font-size:19.5px;line-height:25.35px;font-weight:500;color:#333;-webkit-text-stroke:0.35px #333;">-24</div>
<div class="r" style="left:820px;top:2302.5px;width:143px;height:28px;background:#B3E0DB;border-radius:14px;"></div>
<div class="t" style="left:338px;width:1000px;text-align:center;top:2305.12px;font-size:19.5px;line-height:25.35px;font-weight:500;color:#333;-webkit-text-stroke:0.35px #333;">22</div>
<div class="t" style="left:855px;top:2305.12px;font-size:19.5px;line-height:25.35px;font-weight:500;color:#333;-webkit-text-stroke:0.35px #333;">黑龙江</div>
<div class="t" style="right:72px;top:2305.12px;font-size:19.5px;line-height:25.35px;font-weight:500;color:#333;-webkit-text-stroke:0.35px #333;">-28</div>
<div class="r" style="left:820px;top:2338.0px;width:143px;height:28px;background:#E0E0E0;border-radius:14px;"></div>
<div class="t" style="left:338px;width:1000px;text-align:center;top:2340.62px;font-size:19.5px;line-height:25.35px;font-weight:500;color:#333;-webkit-text-stroke:0.35px #333;">-</div>
<div class="t" style="left:855px;top:2340.62px;font-size:19.5px;line-height:25.35px;font-weight:500;color:#333;-webkit-text-stroke:0.35px #333;">吉林</div>
<div class="t" style="right:72px;top:2340.62px;font-size:19.5px;line-height:25.35px;font-weight:500;color:#333;-webkit-text-stroke:0.35px #333;">-</div>
<div class="t" style="left:403px;width:1000px;text-align:center;top:2598.18px;font-size:30.5px;line-height:39.65px;font-weight:700;color:#333;">华东</div>
<div class="r" style="left:829px;top:2645.0px;width:143px;height:28px;background:#FDE8B0;border-radius:14px;"></div>
<div class="t" style="left:347px;width:1000px;text-align:center;top:2647.62px;font-size:19.5px;line-height:25.35px;font-weight:500;color:#333;-webkit-text-stroke:0.35px #333;">2</div>
<div class="t" style="left:864px;top:2647.62px;font-size:19.5px;line-height:25.35px;font-weight:500;color:#333;-webkit-text-stroke:0.35px #333;">浙江</div>
<div class="t" style="right:63px;top:2647.62px;font-size:19.5px;line-height:25.35px;font-weight:500;color:#333;-webkit-text-stroke:0.35px #333;">31</div>
<div class="r" style="left:829px;top:2680.5px;width:143px;height:28px;background:#FDE8B0;border-radius:14px;"></div>
<div class="t" style="left:347px;width:1000px;text-align:center;top:2683.12px;font-size:19.5px;line-height:25.35px;font-weight:500;color:#333;-webkit-text-stroke:0.35px #333;">5</div>
<div class="t" style="left:864px;top:2683.12px;font-size:19.5px;line-height:25.35px;font-weight:500;color:#333;-webkit-text-stroke:0.35px #333;">上海</div>
<div class="t" style="right:63px;top:2683.12px;font-size:19.5px;line-height:25.35px;font-weight:500;color:#333;-webkit-text-stroke:0.35px #333;">5.1</div>
<div class="r" style="left:829px;top:2716.0px;width:143px;height:28px;background:#B3E0DB;border-radius:14px;"></div>
<div class="t" style="left:347px;width:1000px;text-align:center;top:2718.62px;font-size:19.5px;line-height:25.35px;font-weight:500;color:#333;-webkit-text-stroke:0.35px #333;">10</div>
<div class="t" style="left:864px;top:2718.62px;font-size:19.5px;line-height:25.35px;font-weight:500;color:#333;-webkit-text-stroke:0.35px #333;">福建</div>
<div class="t" style="right:63px;top:2718.62px;font-size:19.5px;line-height:25.35px;font-weight:500;color:#333;-webkit-text-stroke:0.35px #333;">-3</div>
<div class="r" style="left:829px;top:2751.5px;width:143px;height:28px;background:#B3E0DB;border-radius:14px;"></div>
<div class="t" style="left:347px;width:1000px;text-align:center;top:2754.12px;font-size:19.5px;line-height:25.35px;font-weight:500;color:#333;-webkit-text-stroke:0.35px #333;">14</div>
<div class="t" style="left:864px;top:2754.12px;font-size:19.5px;line-height:25.35px;font-weight:500;color:#333;-webkit-text-stroke:0.35px #333;">江苏</div>
<div class="t" style="right:63px;top:2754.12px;font-size:19.5px;line-height:25.35px;font-weight:500;color:#333;-webkit-text-stroke:0.35px #333;">-8</div>
<div class="r" style="left:829px;top:2787.0px;width:143px;height:28px;background:#B3E0DB;border-radius:14px;"></div>
<div class="t" style="left:347px;width:1000px;text-align:center;top:2789.62px;font-size:19.5px;line-height:25.35px;font-weight:500;color:#333;-webkit-text-stroke:0.35px #333;">22</div>
<div class="t" style="left:864px;top:2789.62px;font-size:19.5px;line-height:25.35px;font-weight:500;color:#333;-webkit-text-stroke:0.35px #333;">江西</div>
<div class="t" style="right:63px;top:2789.62px;font-size:19.5px;line-height:25.35px;font-weight:500;color:#333;-webkit-text-stroke:0.35px #333;">-28</div>
<div class="r" style="left:829px;top:2822.5px;width:143px;height:28px;background:#B3E0DB;border-radius:14px;"></div>
<div class="t" style="left:347px;width:1000px;text-align:center;top:2825.12px;font-size:19.5px;line-height:25.35px;font-weight:500;color:#333;-webkit-text-stroke:0.35px #333;">24</div>
<div class="t" style="left:864px;top:2825.12px;font-size:19.5px;line-height:25.35px;font-weight:500;color:#333;-webkit-text-stroke:0.35px #333;">山东</div>
<div class="t" style="right:63px;top:2825.12px;font-size:19.5px;line-height:25.35px;font-weight:500;color:#333;-webkit-text-stroke:0.35px #333;">-37.2</div>
<div class="r" style="left:829px;top:2858.0px;width:143px;height:28px;background:#B3E0DB;border-radius:14px;"></div>
<div class="t" style="left:347px;width:1000px;text-align:center;top:2860.62px;font-size:19.5px;line-height:25.35px;font-weight:500;color:#333;-webkit-text-stroke:0.35px #333;">25</div>
<div class="t" style="left:864px;top:2860.62px;font-size:19.5px;line-height:25.35px;font-weight:500;color:#333;-webkit-text-stroke:0.35px #333;">安徽</div>
<div class="t" style="right:63px;top:2860.62px;font-size:19.5px;line-height:25.35px;font-weight:500;color:#333;-webkit-text-stroke:0.35px #333;">-41</div>
<div class="t" style="left:-340px;width:1000px;text-align:center;top:3042.68px;font-size:30.5px;line-height:39.65px;font-weight:700;color:#333;">西南</div>
<div class="r" style="left:85.5px;top:3088.7px;width:143px;height:28px;background:#FDE8B0;border-radius:14px;"></div>
<div class="t" style="left:-396.5px;width:1000px;text-align:center;top:3091.32px;font-size:19.5px;line-height:25.35px;font-weight:500;color:#333;-webkit-text-stroke:0.35px #333;">6</div>
<div class="t" style="left:120.5px;top:3091.32px;font-size:19.5px;line-height:25.35px;font-weight:500;color:#333;-webkit-text-stroke:0.35px #333;">西藏</div>
<div class="t" style="right:806.5px;top:3091.32px;font-size:19.5px;line-height:25.35px;font-weight:500;color:#333;-webkit-text-stroke:0.35px #333;">4</div>
<div class="r" style="left:85.5px;top:3124.2px;width:143px;height:28px;background:#B3E0DB;border-radius:14px;"></div>
<div class="t" style="left:-396.5px;width:1000px;text-align:center;top:3126.82px;font-size:19.5px;line-height:25.35px;font-weight:500;color:#333;-webkit-text-stroke:0.35px #333;">10</div>
<div class="t" style="left:120.5px;top:3126.82px;font-size:19.5px;line-height:25.35px;font-weight:500;color:#333;-webkit-text-stroke:0.35px #333;">贵州</div>
<div class="t" style="right:806.5px;top:3126.82px;font-size:19.5px;line-height:25.35px;font-weight:500;color:#333;-webkit-text-stroke:0.35px #333;">-3</div>
<div class="r" style="left:85.5px;top:3159.7px;width:143px;height:28px;background:#B3E0DB;border-radius:14px;"></div>
<div class="t" style="left:-396.5px;width:1000px;text-align:center;top:3162.32px;font-size:19.5px;line-height:25.35px;font-weight:500;color:#333;-webkit-text-stroke:0.35px #333;">12</div>
<div class="t" style="left:120.5px;top:3162.32px;font-size:19.5px;line-height:25.35px;font-weight:500;color:#333;-webkit-text-stroke:0.35px #333;">重庆</div>
<div class="t" style="right:806.5px;top:3162.32px;font-size:19.5px;line-height:25.35px;font-weight:500;color:#333;-webkit-text-stroke:0.35px #333;">-3.2</div>
<div class="r" style="left:85.5px;top:3195.2px;width:143px;height:28px;background:#B3E0DB;border-radius:14px;"></div>
<div class="t" style="left:-396.5px;width:1000px;text-align:center;top:3197.82px;font-size:19.5px;line-height:25.35px;font-weight:500;color:#333;-webkit-text-stroke:0.35px #333;">15</div>
<div class="t" style="left:120.5px;top:3197.82px;font-size:19.5px;line-height:25.35px;font-weight:500;color:#333;-webkit-text-stroke:0.35px #333;">云南</div>
<div class="t" style="right:806.5px;top:3197.82px;font-size:19.5px;line-height:25.35px;font-weight:500;color:#333;-webkit-text-stroke:0.35px #333;">-11</div>
<div class="r" style="left:85.5px;top:3230.7px;width:143px;height:28px;background:#B3E0DB;border-radius:14px;"></div>
<div class="t" style="left:-396.5px;width:1000px;text-align:center;top:3233.32px;font-size:19.5px;line-height:25.35px;font-weight:500;color:#333;-webkit-text-stroke:0.35px #333;">26</div>
<div class="t" style="left:120.5px;top:3233.32px;font-size:19.5px;line-height:25.35px;font-weight:500;color:#333;-webkit-text-stroke:0.35px #333;">四川</div>
<div class="t" style="right:806.5px;top:3233.32px;font-size:19.5px;line-height:25.35px;font-weight:500;color:#333;-webkit-text-stroke:0.35px #333;">-46</div>
<div class="t" style="left:-12.5px;width:1000px;text-align:center;top:3113.18px;font-size:30.5px;line-height:39.65px;font-weight:700;color:#333;">华南</div>
<div class="r" style="left:413.5px;top:3160.0px;width:143px;height:28px;background:#FDE8B0;border-radius:14px;"></div>
<div class="t" style="left:-68.5px;width:1000px;text-align:center;top:3162.62px;font-size:19.5px;line-height:25.35px;font-weight:500;color:#333;-webkit-text-stroke:0.35px #333;">1</div>
<div class="t" style="left:448.5px;top:3162.62px;font-size:19.5px;line-height:25.35px;font-weight:500;color:#333;-webkit-text-stroke:0.35px #333;">广东</div>
<div class="t" style="right:478.5px;top:3162.62px;font-size:19.5px;line-height:25.35px;font-weight:500;color:#333;-webkit-text-stroke:0.35px #333;">79</div>
<div class="r" style="left:413.5px;top:3195.5px;width:143px;height:28px;background:#FDE8B0;border-radius:14px;"></div>
<div class="t" style="left:-68.5px;width:1000px;text-align:center;top:3198.12px;font-size:19.5px;line-height:25.35px;font-weight:500;color:#333;-webkit-text-stroke:0.35px #333;">4</div>
<div class="t" style="left:448.5px;top:3198.12px;font-size:19.5px;line-height:25.35px;font-weight:500;color:#333;-webkit-text-stroke:0.35px #333;">海南</div>
<div class="t" style="right:478.5px;top:3198.12px;font-size:19.5px;line-height:25.35px;font-weight:500;color:#333;-webkit-text-stroke:0.35px #333;">6.7</div>
<div class="r" style="left:413.5px;top:3231.0px;width:143px;height:28px;background:#B3E0DB;border-radius:14px;"></div>
<div class="t" style="left:-68.5px;width:1000px;text-align:center;top:3233.62px;font-size:19.5px;line-height:25.35px;font-weight:500;color:#333;-webkit-text-stroke:0.35px #333;">20</div>
<div class="t" style="left:448.5px;top:3233.62px;font-size:19.5px;line-height:25.35px;font-weight:500;color:#333;-webkit-text-stroke:0.35px #333;">广西</div>
<div class="t" style="right:478.5px;top:3233.62px;font-size:19.5px;line-height:25.35px;font-weight:500;color:#333;-webkit-text-stroke:0.35px #333;">-24</div>
<div class="t" style="left:403px;width:1000px;text-align:center;top:3110.18px;font-size:30.5px;line-height:39.65px;font-weight:700;color:#333;">华中</div>
<div class="r" style="left:829px;top:3157.0px;width:143px;height:28px;background:#B3E0DB;border-radius:14px;"></div>
<div class="t" style="left:347px;width:1000px;text-align:center;top:3159.62px;font-size:19.5px;line-height:25.35px;font-weight:500;color:#333;-webkit-text-stroke:0.35px #333;">19</div>
<div class="t" style="left:864px;top:3159.62px;font-size:19.5px;line-height:25.35px;font-weight:500;color:#333;-webkit-text-stroke:0.35px #333;">湖北</div>
<div class="t" style="right:63px;top:3159.62px;font-size:19.5px;line-height:25.35px;font-weight:500;color:#333;-webkit-text-stroke:0.35px #333;">-23</div>
<div class="r" style="left:829px;top:3192.5px;width:143px;height:28px;background:#B3E0DB;border-radius:14px;"></div>
<div class="t" style="left:347px;width:1000px;text-align:center;top:3195.12px;font-size:19.5px;line-height:25.35px;font-weight:500;color:#333;-webkit-text-stroke:0.35px #333;">27</div>
<div class="t" style="left:864px;top:3195.12px;font-size:19.5px;line-height:25.35px;font-weight:500;color:#333;-webkit-text-stroke:0.35px #333;">湖南</div>
<div class="t" style="right:63px;top:3195.12px;font-size:19.5px;line-height:25.35px;font-weight:500;color:#333;-webkit-text-stroke:0.35px #333;">-47</div>
<div class="r" style="left:829px;top:3228.0px;width:143px;height:28px;background:#E0E0E0;border-radius:14px;"></div>
<div class="t" style="left:347px;width:1000px;text-align:center;top:3230.62px;font-size:19.5px;line-height:25.35px;font-weight:500;color:#333;-webkit-text-stroke:0.35px #333;">-</div>
<div class="t" style="left:864px;top:3230.62px;font-size:19.5px;line-height:25.35px;font-weight:500;color:#333;-webkit-text-stroke:0.35px #333;">河南</div>
<div class="t" style="right:63px;top:3230.62px;font-size:19.5px;line-height:25.35px;font-weight:500;color:#333;-webkit-text-stroke:0.35px #333;">-</div>
<div class="t" style="left:63px;top:3285.90px;font-size:24px;line-height:31.2px;font-weight:300;color:#999;">注：剩余省份暂未公布相关数据。</div>
<div class="r" style="left:49px;top:3369px;width:16px;height:68.5px;background:#FDC10A;border-radius:8px;"></div>
<div class="t" style="left:81px;top:3369.85px;font-size:51px;line-height:66.3px;font-weight:900;color:#1a1a1a;-webkit-text-stroke:1.2px #1a1a1a;">常住人口增加从何而来？生育与迁徙</div>
<div class="t" style="left:-361px;width:1000px;text-align:center;top:3475.18px;font-size:30.5px;line-height:39.65px;font-weight:700;color:#111;">分类</div>
<div class="t" style="left:-193.5px;width:1000px;text-align:center;top:3475.18px;font-size:30.5px;line-height:39.65px;font-weight:700;color:#111;">举例省份</div>
<div class="t" style="left:13.700000000000045px;width:1000px;text-align:center;top:3455.20px;font-size:32px;line-height:41.6px;font-weight:700;color:#111;">自然增长</div>
<div class="t" style="left:13px;width:1000px;text-align:center;top:3491.70px;font-size:26px;line-height:33.8px;font-weight:400;color:#111;">（出生与死亡差）</div>
<div class="t" style="left:303.6px;width:1000px;text-align:center;top:3455.20px;font-size:32px;line-height:41.6px;font-weight:700;color:#111;">机械增长</div>
<div class="t" style="left:303.5px;width:1000px;text-align:center;top:3491.70px;font-size:26px;line-height:33.8px;font-weight:400;color:#111;">（迁入与迁出差）</div>
<div class="r" style="left:53px;top:3534px;width:932px;height:105px;background:#f3f3f3;border-radius:15px;"></div>
<div class="r" style="left:53px;top:3534px;width:170.5px;height:105px;background:#FDC10A;border-radius:15px 0 0 15px;"></div>
<div class="t" style="left:-361px;width:1000px;text-align:center;top:3566.68px;font-size:30.5px;line-height:39.65px;font-weight:700;color:#111;">双增</div>
<div class="r" style="left:260px;top:3545.6px;width:87px;height:34.2px;background:#333;border-radius:8px;"></div>
<div class="t" style="left:-196.5px;width:1000px;text-align:center;top:3543.75px;font-size:29px;line-height:37.7px;font-weight:400;color:#fff;">广东</div>
<div class="r" style="left:513.5px;top:3547.5px;width:89.9px;height:32px;background:#FDC10A;"></div>
<div class="t" style="left:609.4px;top:3547.78px;font-size:26.5px;line-height:34.45px;font-weight:400;color:#111;">29.0</div>
<div class="r" style="left:798px;top:3547.5px;width:155.0px;height:32px;background:#FDC10A;"></div>
<div class="t" style="right:76.0px;top:3547.78px;font-size:26.5px;line-height:34.45px;font-weight:400;color:#111;">50.0</div>
<div class="r" style="left:260px;top:3592.0px;width:87px;height:34.2px;background:#333;border-radius:8px;"></div>
<div class="t" style="left:-196.5px;width:1000px;text-align:center;top:3590.15px;font-size:29px;line-height:37.7px;font-weight:400;color:#fff;">新疆</div>
<div class="r" style="left:513.5px;top:3592.0px;width:22.0px;height:32px;background:#FDC10A;"></div>
<div class="t" style="left:541.51px;top:3592.28px;font-size:26.5px;line-height:34.45px;font-weight:400;color:#111;">7.1</div>
<div class="r" style="left:798px;top:3592.0px;width:28.2px;height:32px;background:#FDC10A;"></div>
<div class="t" style="left:832.21px;top:3592.28px;font-size:26.5px;line-height:34.45px;font-weight:400;color:#111;">9.1</div>
<div class="r" style="left:53px;top:3655px;width:932px;height:105px;background:#f3f3f3;border-radius:15px;"></div>
<div class="r" style="left:53px;top:3655px;width:170.5px;height:105px;background:#FDC10A;border-radius:15px 0 0 15px;"></div>
<div class="t" style="left:-361px;width:1000px;text-align:center;top:3687.68px;font-size:30.5px;line-height:39.65px;font-weight:700;color:#111;">增大于减</div>
<div class="r" style="left:260px;top:3666.6px;width:87px;height:34.2px;background:#333;border-radius:8px;"></div>
<div class="t" style="left:-196.5px;width:1000px;text-align:center;top:3664.75px;font-size:29px;line-height:37.7px;font-weight:400;color:#fff;">浙江</div>
<div class="r" style="left:489.0px;top:3668.5px;width:24.5px;height:32px;background:#0B9685;"></div>
<div class="t" style="right:542.99px;top:3668.78px;font-size:26.5px;line-height:34.45px;font-weight:400;color:#111;">-7.9</div>
<div class="r" style="left:798px;top:3668.5px;width:120.6px;height:32px;background:#FDC10A;"></div>
<div class="t" style="right:113.90999999999997px;top:3668.78px;font-size:26.5px;line-height:34.45px;font-weight:400;color:#111;">38.9</div>
<div class="r" style="left:260px;top:3713.0px;width:87px;height:34.2px;background:#333;border-radius:8px;"></div>
<div class="t" style="left:-196.5px;width:1000px;text-align:center;top:3711.15px;font-size:29px;line-height:37.7px;font-weight:400;color:#fff;">上海</div>
<div class="r" style="left:495.8px;top:3713.0px;width:17.7px;height:32px;background:#0B9685;"></div>
<div class="t" style="right:536.1700000000001px;top:3713.28px;font-size:26.5px;line-height:34.45px;font-weight:400;color:#111;">-5.7</div>
<div class="r" style="left:798px;top:3713.0px;width:33.8px;height:32px;background:#FDC10A;"></div>
<div class="t" style="left:837.79px;top:3713.28px;font-size:26.5px;line-height:34.45px;font-weight:400;color:#111;">10.9</div>
<div class="r" style="left:53px;top:3776px;width:932px;height:105px;background:#f3f3f3;border-radius:15px;"></div>
<div class="r" style="left:53px;top:3776px;width:170.5px;height:105px;background:#0B9685;border-radius:15px 0 0 15px;"></div>
<div class="t" style="left:-361px;width:1000px;text-align:center;top:3808.68px;font-size:30.5px;line-height:39.65px;font-weight:700;color:#fff;">减大于增</div>
<div class="r" style="left:260px;top:3787.6px;width:87px;height:34.2px;background:#333;border-radius:8px;"></div>
<div class="t" style="left:-196.5px;width:1000px;text-align:center;top:3785.75px;font-size:29px;line-height:37.7px;font-weight:400;color:#fff;">贵州</div>
<div class="r" style="left:513.5px;top:3789.5px;width:15.2px;height:32px;background:#FDC10A;"></div>
<div class="t" style="left:534.69px;top:3789.78px;font-size:26.5px;line-height:34.45px;font-weight:400;color:#111;">4.9</div>
<div class="r" style="left:773.5px;top:3789.5px;width:24.5px;height:32px;background:#0B9685;"></div>
<div class="t" style="right:258.49px;top:3789.78px;font-size:26.5px;line-height:34.45px;font-weight:400;color:#111;">-7.9</div>
<div class="r" style="left:260px;top:3834.0px;width:87px;height:34.2px;background:#333;border-radius:8px;"></div>
<div class="t" style="left:-196.5px;width:1000px;text-align:center;top:3832.15px;font-size:29px;line-height:37.7px;font-weight:400;color:#fff;">青海</div>
<div class="r" style="left:513.5px;top:3834.0px;width:22.6px;height:32px;background:#FDC10A;"></div>
<div class="t" style="left:542.13px;top:3834.28px;font-size:26.5px;line-height:34.45px;font-weight:400;color:#111;">7.3</div>
<div class="r" style="left:772.3px;top:3834.0px;width:25.7px;height:32px;background:#0B9685;"></div>
<div class="t" style="right:259.73px;top:3834.28px;font-size:26.5px;line-height:34.45px;font-weight:400;color:#111;">-8.3</div>
<div class="r" style="left:53px;top:3897px;width:932px;height:105px;background:#f3f3f3;border-radius:15px;"></div>
<div class="r" style="left:53px;top:3897px;width:170.5px;height:105px;background:#0B9685;border-radius:15px 0 0 15px;"></div>
<div class="t" style="left:-361px;width:1000px;text-align:center;top:3929.68px;font-size:30.5px;line-height:39.65px;font-weight:700;color:#fff;">双减</div>
<div class="r" style="left:260px;top:3908.6px;width:87px;height:34.2px;background:#333;border-radius:8px;"></div>
<div class="t" style="left:-196.5px;width:1000px;text-align:center;top:3906.75px;font-size:29px;line-height:37.7px;font-weight:400;color:#fff;">湖南</div>
<div class="r" style="left:424.5px;top:3910.5px;width:89.0px;height:32px;background:#0B9685;"></div>
<div class="t" style="left:427.53px;top:3910.78px;font-size:26.5px;line-height:34.45px;font-weight:400;color:#fff;">-28.7</div>
<div class="r" style="left:741.3px;top:3910.5px;width:56.7px;height:32px;background:#0B9685;"></div>
<div class="t" style="right:291.73px;top:3910.78px;font-size:26.5px;line-height:34.45px;font-weight:400;color:#0B9685;">-18.3</div>
<div class="r" style="left:260px;top:3955.0px;width:87px;height:34.2px;background:#333;border-radius:8px;"></div>
<div class="t" style="left:-196.5px;width:1000px;text-align:center;top:3953.15px;font-size:29px;line-height:37.7px;font-weight:400;color:#fff;">四川</div>
<div class="r" style="left:404.4px;top:3955.0px;width:109.1px;height:32px;background:#0B9685;"></div>
<div class="t" style="left:407.38px;top:3955.28px;font-size:26.5px;line-height:34.45px;font-weight:400;color:#fff;">-35.2</div>
<div class="r" style="left:764.5px;top:3955.0px;width:33.5px;height:32px;background:#0B9685;"></div>
<div class="t" style="right:268.48px;top:3955.28px;font-size:26.5px;line-height:34.45px;font-weight:400;color:#0B9685;">-10.8</div>
<div class="r" style="left:513px;top:3536px;width:1px;height:463px;background:#444;"></div>
<div class="r" style="left:797.5px;top:3536px;width:1px;height:463px;background:#444;"></div>
<div class="t" style="left:63px;top:4039.13px;font-size:23.8px;line-height:30.94px;font-weight:300;color:#949494;">注：数值为四舍五入结果。</div>
<div class="t" style="left:63px;top:4080.23px;font-size:23.8px;line-height:30.94px;font-weight:300;color:#949494;">数据来源：各地国民经济和社会发展统计公报、政府工作报告</div>
<div class="r" style="left:817px;top:4047.5px;width:167px;height:46px;background:#FDC10A;border-radius:6px;"></div>
<div class="t" style="left:825px;top:4051.5px;font-size:31px;line-height:36px;font-weight:700;color:#fff;font-family:'Liberation Serif',serif;font-style:italic;letter-spacing:-1px;transform:scaleY(1.12);transform-origin:0 50%;">澎湃</div>
<div class="t" style="left:889px;top:4055.5px;font-size:22px;line-height:30px;font-weight:700;color:#fff;">·</div>
<div class="t" style="left:901px;top:4052.5px;font-size:26.5px;line-height:34px;font-weight:400;color:#fff;letter-spacing:-0.6px;transform:scaleY(1.3);transform-origin:0 50%;">美数课</div>
<div class="t" style="left:827px;top:4085.5px;font-size:4.5px;line-height:6px;font-weight:700;color:#fff;letter-spacing:1.6px;">THE PAPER</div>
</body></html>
